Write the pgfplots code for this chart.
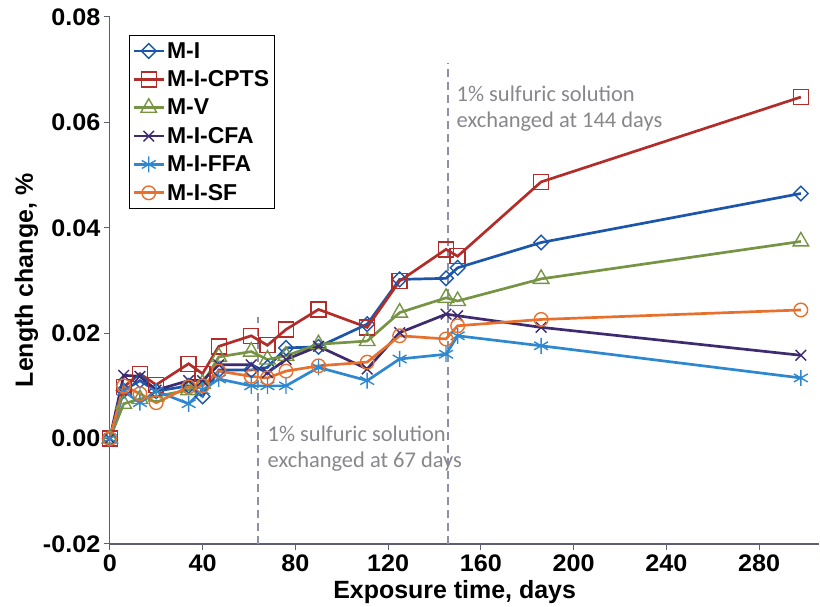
\documentclass[border=0pt]{standalone}
\usepackage{fontspec}
\setmainfont{Liberation Sans}
\newfontfamily\tickfont[FakeStretch=1.05]{Liberation Sans}
\newfontfamily\calib{Carlito}
\usepackage{pgfplots}
\pgfplotsset{compat=1.18}
\usepackage{pgfplotstable}

\definecolor{cMI}{RGB}{28,86,170}
\definecolor{cCPTS}{RGB}{178,45,42}
\definecolor{cMV}{RGB}{118,148,68}
\definecolor{cCFA}{RGB}{62,42,110}
\definecolor{cFFA}{RGB}{46,136,208}
\definecolor{cSF}{RGB}{232,112,45}
\definecolor{axisgray}{RGB}{90,94,118}
\definecolor{dashgray}{RGB}{140,146,165}
\definecolor{notegray}{RGB}{135,135,140}

\pgfplotstableread{
day MI CPTS MV CFA FFA SF
0 0 0 0 0 0 0
6 0.0091 0.0098 0.0066 0.0120 0.0090 0.0100
13 0.0110 0.0123 0.0075 0.0118 0.0068 0.0085
20 0.0090 0.0102 0.0080 0.0092 0.0090 0.0068
34 0.0100 0.0142 0.0092 0.0110 0.0066 0.0098
40 0.0080 0.0123 0.0104 0.0110 0.0092 0.0100
47 0.0130 0.0175 0.0155 0.0140 0.0113 0.0128
61 0.0130 0.0195 0.0165 0.0140 0.0100 0.0118
68 0.0135 0.0177 0.0150 0.0125 0.0100 0.0115
76 0.0172 0.0207 0.0157 0.0150 0.0100 0.0128
90 0.0174 0.0245 0.0179 0.0175 0.0135 0.0138
111 0.0217 0.0211 0.0185 0.0132 0.0110 0.0145
125 0.0302 0.0299 0.0239 0.0201 0.0151 0.0195
145 0.0304 0.0359 0.0267 0.0236 0.0160 0.0189
150 0.0324 0.0346 0.0261 0.0233 0.0195 0.0214
186 0.0372 0.0487 0.0303 0.0211 0.0176 0.0226
298 0.0465 0.0648 0.0374 0.0158 0.0115 0.0244
}\data

\begin{document}
\begin{tikzpicture}
\begin{axis}[
  scale only axis,
  width=711bp, height=528bp,
  xmin=0, xmax=306, ymin=-0.02, ymax=0.08,
  axis x line*=bottom, axis y line*=left,
  xtick={0,40,...,280},
  ytick={-0.02,0,0.02,0.04,0.06,0.08},
  yticklabels={-0.02,0.00,0.02,0.04,0.06,0.08},
  scaled y ticks=false,
  /pgf/number format/assume math mode=true,
  tick align=outside,
  major tick length=6bp,
  tick style={draw=axisgray, line width=1bp},
  axis line style={draw=axisgray, line width=1.2bp},
  ticklabel style={font=\tickfont\bfseries\fontsize{24bp}{24bp}\selectfont},
  xticklabel style={yshift=-1bp},
  xlabel={Exposure time, days},
  ylabel={Length change, \%},
  label style={font=\bfseries\fontsize{25bp}{25bp}\selectfont},
  xlabel style={yshift=-2bp, xshift=-10bp},
  ylabel style={yshift=-2bp},
  legend style={at={(0.027,0.966)}, anchor=north west, draw=black, line width=1bp,
    font=\bfseries\fontsize{23bp}{23bp}\selectfont, row sep=7bp,
    inner xsep=3bp, inner ysep=5bp, cells={anchor=west}},
  legend image code/.code={\draw[mark repeat=2,mark phase=2] plot coordinates {(0bp,0bp) (15bp,0bp) (30bp,0bp)};},
  every axis plot/.append style={line width=2.7bp},
  clip=false,
]
\path (rel axis cs:0,1) ++(-110bp,17bp) coordinate (bbtl);
\path (bbtl) circle (0pt);
\addplot[dashgray, line width=2bp, dash pattern=on 8bp off 5bp, forget plot] coordinates {(64,-0.02) (64,0.023)};
\addplot[dashgray, line width=2bp, dash pattern=on 8bp off 5bp, forget plot] coordinates {(146,-0.02) (146,0.0713)};

\addplot[cMI, mark=square, mark size=5.2bp, mark options={rotate=45, solid, line width=1.4bp}] table[x=day, y=MI] {\data};
\addlegendentry{M-I}
\addplot[cCPTS, mark=square, mark size=7.5bp, mark options={solid, line width=1.4bp}] table[x=day, y=CPTS] {\data};
\addlegendentry{M-I-CPTS}
\addplot[cMV, mark=triangle, mark size=9bp, mark options={solid, line width=1.4bp}] table[x=day, y=MV] {\data};
\addlegendentry{M-V}
\addplot[cCFA, mark=x, mark size=7.5bp, mark options={solid, line width=1.4bp}] table[x=day, y=CFA] {\data};
\addlegendentry{M-I-CFA}
\addplot[cFFA, mark=asterisk, mark size=8bp, mark options={solid, line width=1.4bp}] table[x=day, y=FFA] {\data};
\addlegendentry{M-I-FFA}
\addplot[cSF, mark=o, mark size=6.8bp, mark options={solid, line width=1.4bp}] table[x=day, y=SF] {\data};
\addlegendentry{M-I-SF}

\node[anchor=north west, align=left, inner sep=0pt, text=notegray,
  font=\calib\fontsize{22.5bp}{26bp}\selectfont] at (axis cs:149.5,0.0670)
  {1\% sulfuric solution\\exchanged at 144 days};
\node[anchor=north west, align=left, inner sep=0pt, text=notegray,
  font=\calib\fontsize{22.5bp}{26bp}\selectfont] at (axis cs:68,0.0025)
  {1\% sulfuric solution\\exchanged at 67 days};
\end{axis}
\end{tikzpicture}
\end{document}
